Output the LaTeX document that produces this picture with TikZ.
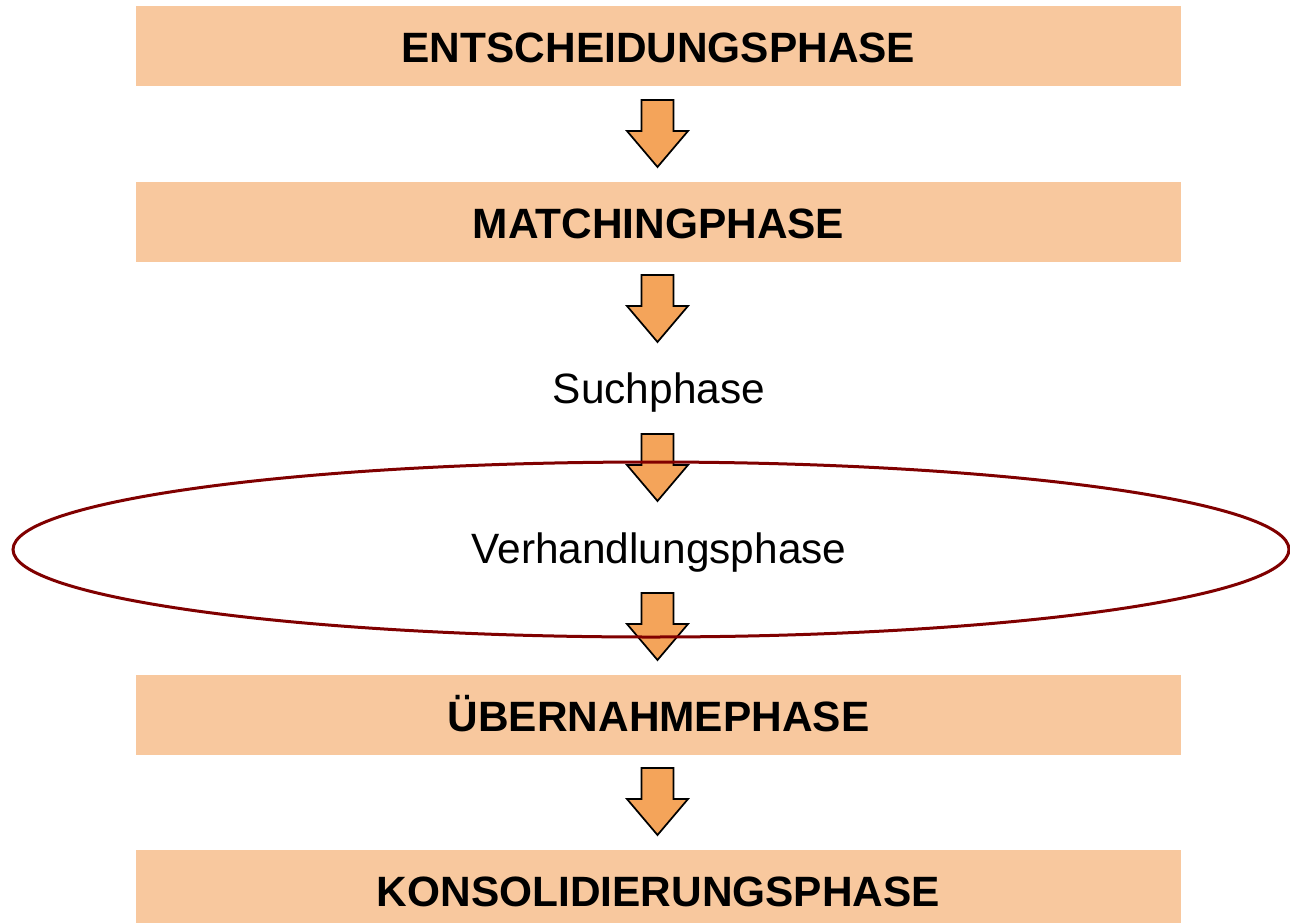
\documentclass[tikz,border=0pt]{standalone}
\usepackage{fontspec}
\setmainfont{Liberation Sans}
\usepackage{xcolor}
\usepackage{tikz}
\usetikzlibrary{positioning,calc}

\definecolor{phasefill}{RGB}{248,200,158}
\definecolor{arrowfill}{RGB}{244,164,90}
\definecolor{ringred}{RGB}{128,0,0}

\begin{document}
\begin{tikzpicture}[x=0.75pt,y=-0.75pt]
	\tikzset{phase/.style={fill=phasefill,minimum width=783.75pt,minimum height=60pt,inner sep=0pt,text height=25pt,text depth=0pt,font=\fontsize{31.8}{36}\selectfont\bfseries}}
	\tikzset{subphase/.style={inner sep=0pt,font=\fontsize{31.8}{36}\selectfont}}
	\tikzset{blockarrow/.pic={\draw[fill=arrowfill,line width=1.3pt,line join=miter] (-16,0) -- (16,0) -- (16,31) -- (30.5,31) -- (0,67) -- (-30.5,31) -- (-16,31) -- cycle;}}
	\useasboundingbox (0,0) rectangle (1290,922);
	
	\node[phase](E) at (658.5,46){ENTSCHEIDUNGSPHASE};
	\node[phase](M) at (658.5,222){MATCHINGPHASE};
	\node[subphase](S) at (659,393){Suchphase};
	\node[subphase](V) at (659,553){Verhandlungsphase};
	\node[phase](U) at (658.5,715){ÜBERNAHMEPHASE};
	\node[phase](K) at (658.5,890){KONSOLIDIERUNGSPHASE};
	
	\pic at (657.5,100) {blockarrow};
	\pic at (657.5,275) {blockarrow};
	\pic at (657.5,434) {blockarrow};
	\pic at (657.5,593) {blockarrow};
	\pic at (657.5,768) {blockarrow};
	
	\draw[ringred,line width=2.25pt] (651,549.5) ellipse [x radius=638,y radius=87.5];
\end{tikzpicture}
\end{document}
